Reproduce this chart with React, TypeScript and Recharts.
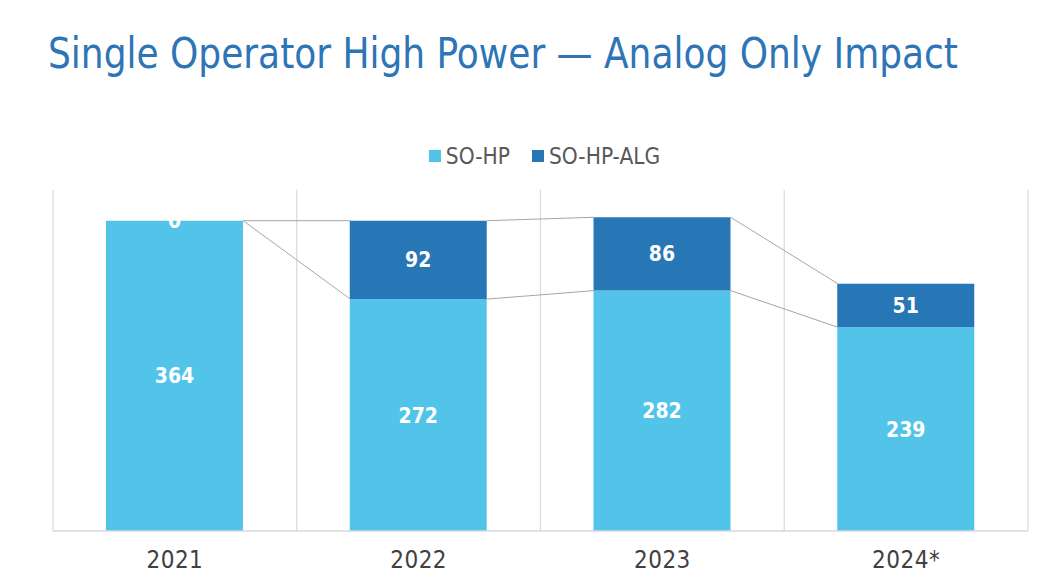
import React from 'react';
import { ComposedChart, Bar, XAxis, YAxis, ReferenceLine, LabelList, Legend, Rectangle } from 'recharts';

const categories = ['2021', '2022', '2023', '2024*'];
const soHp = [364, 272, 282, 239];
const soHpAlg = [0, 92, 86, 51];
const yTicks = [0, 100, 200, 300, 400];

const FONT = "'DejaVu Sans Condensed', 'DejaVu Sans', sans-serif";
const LIGHT = '#53C4E9';
const DARK = '#2776B6';
const HALF = 0.28; // half of bar width, in category units

const data = categories.map((c, i) => ({
  pos: i + 0.5,
  name: c,
  soHp: soHp[i],
  soHpAlg: soHpAlg[i],
}));

const gridX = [0, 1, 2, 3, 4];

const connectors: { a: { x: number; y: number }; b: { x: number; y: number } }[] = [];
for (let i = 0; i < categories.length - 1; i++) {
  connectors.push({ a: { x: i + 0.5 + HALF, y: soHp[i] }, b: { x: i + 1.5 - HALF, y: soHp[i + 1] } });
  connectors.push({
    a: { x: i + 0.5 + HALF, y: soHp[i] + soHpAlg[i] },
    b: { x: i + 1.5 - HALF, y: soHp[i + 1] + soHpAlg[i + 1] },
  });
}

const LegendContent = (props: any) => {
  const items = props.payload || [];
  return (
    <div style={{ display: 'flex', justifyContent: 'center', alignItems: 'center', fontFamily: FONT, fontSize: 22.5, color: '#595959' }}>
      {items.map((it: any, k: number) => (
        <div key={k} style={{ display: 'flex', alignItems: 'center', marginRight: k === 0 ? 22 : 0 }}>
          <span style={{ width: 12, height: 12, background: it.color, display: 'inline-block', marginRight: 5 }} />
          <span>{it.value}</span>
        </div>
      ))}
    </div>
  );
};

const AlgShape = (props: any) => {
  if (!props.payload || props.payload.soHpAlg <= 0) return null;
  return <Rectangle {...props} />;
};

export default function App() {
  return (
    <div style={{ position: 'absolute', left: 0, top: 0, width: 1049, height: 585, background: '#fff', overflow: 'hidden' }}>
      <div
        style={{
          position: 'absolute',
          left: 48,
          top: 28,
          fontFamily: FONT,
          fontSize: 42,
          color: '#2E75B6',
          whiteSpace: 'nowrap',
          lineHeight: '52px',
          transform: 'scaleX(0.952)',
          transformOrigin: 'left center',
        }}
      >
        Single Operator High Power — Analog Only Impact
      </div>
      <ComposedChart
        width={1049}
        height={585}
        data={data}
        margin={{ top: 190, right: 21, bottom: 0, left: 53 }}
        style={{ position: 'absolute', left: 0, top: 0 }}
      >
        <XAxis
          dataKey="pos"
          type="number"
          domain={[0, 4]}
          ticks={[0.5, 1.5, 2.5, 3.5]}
          tickFormatter={(v: number) => categories[Math.floor(v)]}
          height={54}
          tickSize={0}
          tickMargin={20}
          axisLine={{ stroke: '#D9D9D9', strokeWidth: 1.5 }}
          tickLine={false}
          tick={{ fontFamily: FONT, fontSize: 24, fill: '#404040', letterSpacing: 0.5 }}
          allowDataOverflow
        />
        <YAxis hide domain={[0, 400]} ticks={yTicks} width={0} />
        {gridX.map((gx) => (
          <ReferenceLine key={'g' + gx} x={gx} stroke="#D9D9D9" strokeWidth={1.2} />
        ))}
        <Legend
          verticalAlign="middle"
          align="center"
          layout="horizontal"
          content={<LegendContent />}
          wrapperStyle={{ position: 'absolute', top: 143, left: 20, width: 1049 }}
        />
        <Bar dataKey="soHp" name="SO-HP" stackId="s" fill={LIGHT} barSize={137} isAnimationActive={false}>
          <LabelList dataKey="soHp" position="center" fill="#fff" style={{ fontFamily: FONT, fontSize: 21, fontWeight: 'bold' }} />
        </Bar>
        <Bar
          dataKey="soHpAlg"
          name="SO-HP-ALG"
          stackId="s"
          fill={DARK}
          barSize={137}
          minPointSize={1}
          shape={<AlgShape />}
          isAnimationActive={false}
        >
          <LabelList dataKey="soHpAlg" position="center" fill="#fff" style={{ fontFamily: FONT, fontSize: 21, fontWeight: 'bold' }} />
        </Bar>
        {connectors.map((c, k) => (
          <ReferenceLine key={'c' + k} segment={[c.a, c.b]} stroke="#A6A6A6" strokeWidth={1} />
        ))}
      </ComposedChart>
    </div>
  );
}
